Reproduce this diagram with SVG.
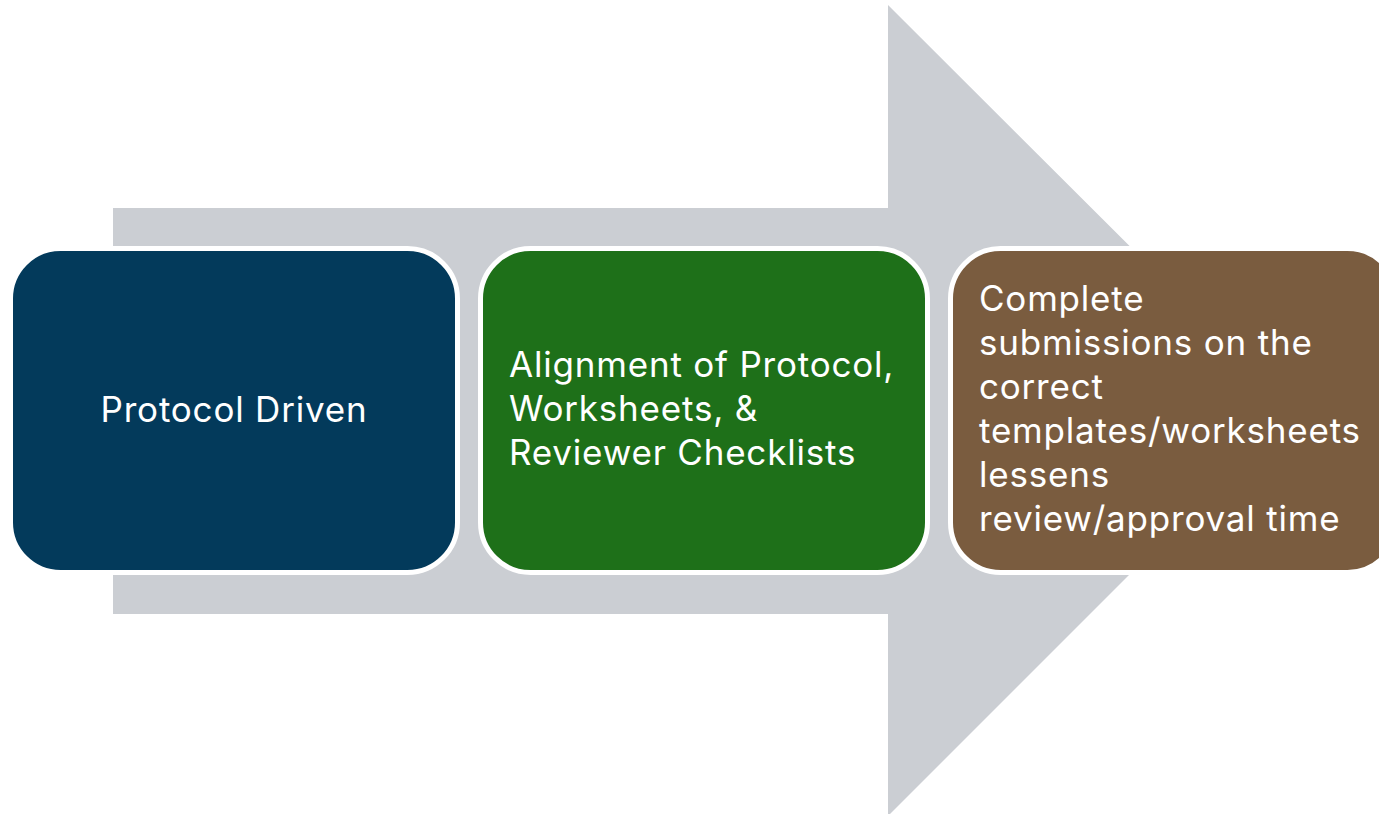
<svg xmlns="http://www.w3.org/2000/svg" width="1379" height="814" viewBox="0 0 1379 814">
<style>
.box{stroke:#ffffff;stroke-width:5}
.t{font-family:Inter,"Open Sans","Liberation Sans",sans-serif;font-size:35px;letter-spacing:0.8px;fill:#ffffff}
</style>
<rect width="1379" height="814" fill="#ffffff"/>
<g id="connectors">
<polygon id="arrow" points="113,208 888,208 888,5 1294,410 888,816 888,614 113,614" fill="#CBCED3"/>
</g>
<g id="node1">
<rect class="box" x="10.5" y="248.5" width="447" height="324" rx="50" fill="#033A5B"/>
<text class="t" x="234" y="422" text-anchor="middle">Protocol Driven</text>
</g>
<g id="node2">
<rect class="box" x="480.5" y="248.5" width="447" height="324" rx="50" fill="#1E7019"/>
<text class="t" x="509" y="377">Alignment of Protocol,</text>
<text class="t" x="509" y="421">Worksheets, &amp;</text>
<text class="t" x="509" y="465">Reviewer Checklists</text>
</g>
<g id="node3">
<rect class="box" x="950.5" y="248.5" width="447" height="324" rx="50" fill="#7A5C3F"/>
<text class="t" x="979" y="311">Complete</text>
<text class="t" x="979" y="355">submissions on the</text>
<text class="t" x="979" y="399">correct</text>
<text class="t" x="979" y="443">templates/worksheets</text>
<text class="t" x="979" y="487">lessens</text>
<text class="t" x="979" y="531">review/approval time</text>
</g>
</svg>
